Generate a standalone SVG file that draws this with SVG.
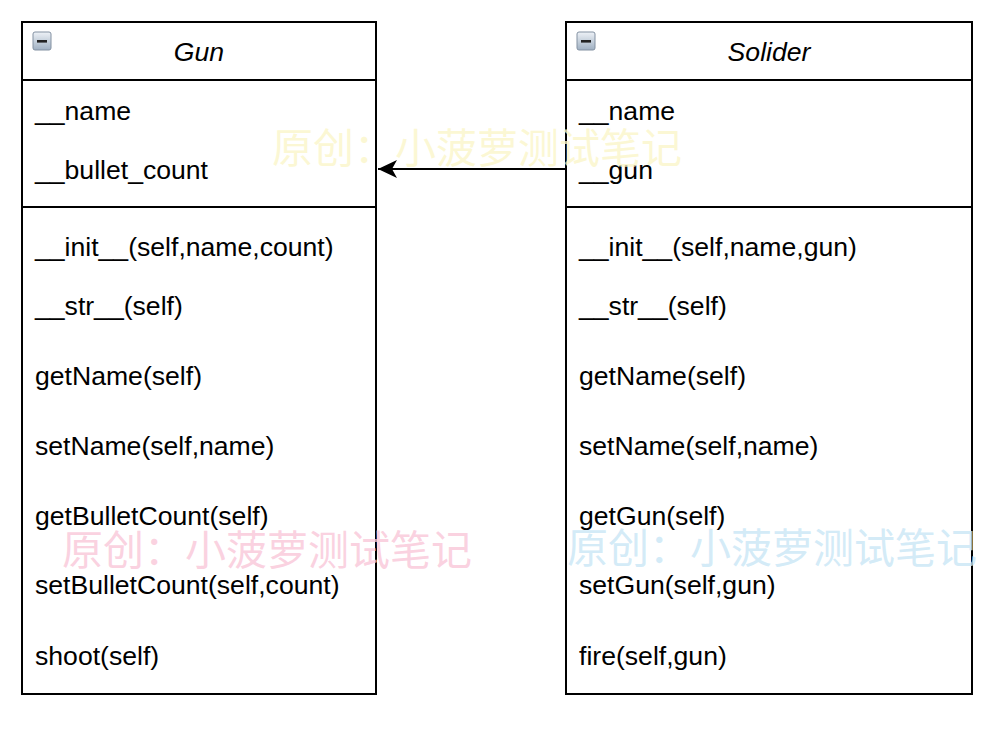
<svg xmlns="http://www.w3.org/2000/svg" width="988" height="729" viewBox="0 0 988 729">
<style>
.box{fill:#fff;stroke:#000;stroke-width:2}
.sep{stroke:#000;stroke-width:2}
.t{font-family:"Liberation Sans",Arial,sans-serif;font-size:26.6px;fill:#000}
.title{font-family:"Liberation Sans",Arial,sans-serif;font-size:26.6px;font-style:italic;fill:#000}
.wm{font-family:"Noto Sans CJK SC",sans-serif;font-size:41px}
</style>
<defs>
<linearGradient id="ig" x1="0" y1="0" x2="0" y2="1">
<stop offset="0" stop-color="#eef2f7"/>
<stop offset="1" stop-color="#9fb0c2"/>
</linearGradient>
<g id="icon">
<rect x="0" y="0" width="18" height="18" rx="2" fill="url(#ig)" stroke="#8391a2" stroke-width="1"/>
<rect x="4" y="8" width="10" height="2.6" fill="#222"/>
</g>
<marker id="arr" markerWidth="22" markerHeight="22" refX="20" refY="10" orient="auto" markerUnits="userSpaceOnUse">
<path d="M20,10 L1,1 L6,10 L1,19 Z" fill="#000"/>
</marker>
</defs>
<rect width="988" height="729" fill="#fff"/>
<g id="gun">
<rect class="box" x="22" y="22" width="354" height="672"/>
<line class="sep" x1="22" y1="80" x2="376" y2="80"/>
<line class="sep" x1="22" y1="207" x2="376" y2="207"/>
<use href="#icon" x="33" y="32"/>
<text class="title" x="199" y="61" text-anchor="middle">Gun</text>
<text class="t" x="35" y="120">__name</text>
<text class="t" x="35" y="179">__bullet_count</text>
<text class="t" x="35" y="256">__init__(self,name,count)</text>
<text class="t" x="35" y="315">__str__(self)</text>
<text class="t" x="35" y="385">getName(self)</text>
<text class="t" x="35" y="455">setName(self,name)</text>
<text class="t" x="35" y="525">getBulletCount(self)</text>
<text class="t" x="35" y="594">setBulletCount(self,count)</text>
<text class="t" x="35" y="665">shoot(self)</text>
</g>
<g id="solider">
<rect class="box" x="566" y="22" width="406" height="672"/>
<line class="sep" x1="566" y1="80" x2="972" y2="80"/>
<line class="sep" x1="566" y1="207" x2="972" y2="207"/>
<use href="#icon" x="577" y="32"/>
<text class="title" x="769" y="61" text-anchor="middle">Solider</text>
<text class="t" x="579" y="120">__name</text>
<text class="t" x="579" y="179">__gun</text>
<text class="t" x="579" y="256">__init__(self,name,gun)</text>
<text class="t" x="579" y="315">__str__(self)</text>
<text class="t" x="579" y="385">getName(self)</text>
<text class="t" x="579" y="455">setName(self,name)</text>
<text class="t" x="579" y="525">getGun(self)</text>
<text class="t" x="579" y="594">setGun(self,gun)</text>
<text class="t" x="579" y="665">fire(self,gun)</text>
</g>
<g id="connectors">
<line x1="566" y1="169" x2="378" y2="169" stroke="#000" stroke-width="2" marker-end="url(#arr)"/>
</g>
<g id="watermarks">
<text class="wm" x="272" y="163" fill="#fbf6c8" fill-opacity="0.8">原创：小菠萝测试笔记</text>
<text class="wm" x="62" y="565" fill="#f9c6d8" fill-opacity="0.8">原创：小菠萝测试笔记</text>
<text class="wm" x="567" y="563" fill="#c8e6f6" fill-opacity="0.8">原创：小菠萝测试笔记</text>
</g>
</svg>
